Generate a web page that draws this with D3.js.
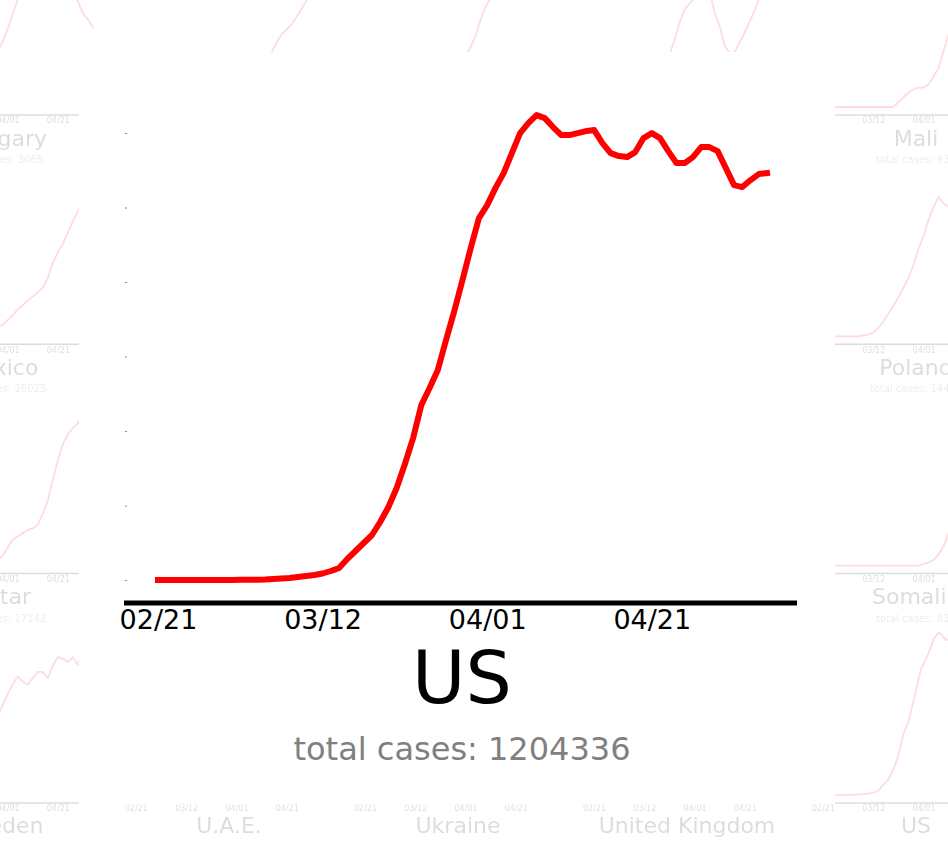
<!DOCTYPE html>
<html>
<head>
<meta charset="utf-8">
<script src="https://cdn.jsdelivr.net/npm/d3@7"></script>
<style>
  body { margin: 0; background: #fff; }
  svg { display: block; font-family: "DejaVu Sans", sans-serif; }
</style>
</head>
<body>
<script>
// daily new cases (smoothed) for the US, 02/21 .. 05/05
const usCases = [3, 3, 3, 3, 3, 4, 4, 5, 6, 8, 10, 15, 25, 35, 67, 100, 134, 200, 268, 335,
    436, 604, 805, 1409, 1946, 2483, 3019, 3892, 4898, 6173, 7784, 9528, 11742, 12882, 14090,
    16103, 18049, 20130, 22277, 24290, 25162, 26303, 27310, 28652, 29994, 30665, 31202, 31000,
    30397, 29860, 29860, 29994, 30128, 30195, 29323, 28652, 28450, 28383, 28719, 29658, 29994,
    29658, 28786, 27981, 27981, 28383, 29054, 29054, 28786, 27645, 26504, 26370, 26840, 27243, 27310];
const usTotal = 1204336;

// background panels, every second day, in % of each country's own peak
const hungary = [0, 0, 0, 0, 0, 0, 0, 0, 1, 2, 3, 5, 7, 10, 14, 18, 23, 28, 34, 40, 48, 57, 66, 75,
    83, 90, 95, 99, 100, 97, 92, 85, 78, 71, 65, 58, 54, 49];
const rowOneB = [0, 0, 0, 0, 0, 0, 0, 0, 0, 0, 0, 1, 2, 4, 6, 8, 10, 12, 14, 16, 18, 20, 22, 24, 26,
    28, 31, 34, 40, 45, 48, 51, 56, 61, 66, 78, 90, 100];
const rowOneC = [0, 0, 0, 0, 0, 0, 0, 0, 0, 0, 0, 0, 0, 2, 4, 7, 10, 14, 19, 25, 31, 37, 44, 54, 62,
    67, 75, 84, 92, 97, 100, 96, 90, 86, 84, 80, 78, 76];
const rowOneD = [0, 0, 0, 0, 0, 0, 0, 0, 0, 0, 2, 5, 10, 16, 24, 32, 41, 52, 60, 64, 67, 80, 90, 72,
    58, 50, 38, 33, 34, 40, 46, 53, 60, 68, 80, 92, 100, 97];
const mali = [0, 0, 0, 0, 0, 0, 0, 0, 0, 0, 0, 0, 0, 0, 0, 3, 6, 9, 11, 12, 12, 14, 19, 24, 35, 45,
    55, 60, 65, 70, 78, 85, 90, 95, 100, 97, 98, 100];
const mexico = [0, 0, 0, 0, 0, 0, 0, 0, 0, 0, 0.5, 1, 1.5, 2, 3, 3.5, 4, 5, 5.5, 7, 10, 13, 16.5, 19,
    22, 24.5, 27, 30, 36, 45, 52, 57, 64, 71, 77, 85, 93, 100];
const poland = [0, 0, 0, 0, 0, 0, 0, 0, 0.5, 1, 2.5, 5, 9, 14, 19, 24, 30, 36, 44, 54, 62, 72, 80, 86,
    82, 80, 82, 85, 88, 90, 93, 95, 97, 100, 98, 96, 95, 97];
const qatar = [0, 0, 0, 0, 0, 0, 0, 0, 0, 0, 0, 0.5, 1, 1.5, 2, 2, 2.5, 3, 3.5, 6, 11, 16, 18, 20, 22,
    23, 25, 32, 40, 53, 65, 75, 81, 85, 88, 93, 97, 100];
const somalia = [0, 0, 0, 0, 0, 0, 0, 0, 0, 0, 0, 0, 0, 0, 0, 0, 0, 0, 0, 0, 1, 2, 3.5, 7, 12, 20, 30,
    42, 55, 65, 70, 75, 80, 85, 90, 95, 100, 98];
const sweden = [0, 0, 0, 0, 0, 1, 2, 5, 10, 14, 18, 22, 25, 28, 32, 36, 40, 44, 48, 55, 62, 68, 73,
    70, 68, 72, 76, 76, 72, 80, 85, 84, 82, 85, 80, 90, 100, 95];

// grid of background panels, rows 1..4 of the overview, 5 columns
const gridNames = [
    ["Hungary", "", "", "", "Mali"],
    ["Mexico", "", "", "", "Poland"],
    ["Qatar", "", "", "", "Somalia"],
    ["Sweden", "U.A.E.", "Ukraine", "United Kingdom", "US"]
];
const gridTotals = [
    [3065, null, null, null, 631],
    [26025, null, null, null, 14431],
    [17142, null, null, null, 835],
    [null, null, null, null, usTotal]
];
const gridSeries = [
    [hungary, rowOneB, rowOneC, rowOneD, mali],
    [mexico, null, null, null, poland],
    [qatar, null, null, null, somalia],
    [sweden, null, null, null, usCases]
];

const tickDates = ["2020-02-21", "2020-03-12", "2020-04-01", "2020-04-21"];

const width = 948, height = 843;
const start = new Date(2020, 1, 21);
const usDates = usCases.map((v, i) => d3.timeDay.offset(start, i));
const end = usDates[usDates.length - 1];
const tickValues = tickDates.map(d3.timeParse("%Y-%m-%d"));
const fmt = d3.timeFormat("%m/%d");

const svg = d3.select("body")
    .append("svg")
    .attr("width", width)
    .attr("height", height);

// ---- faded overview grid ----
const bg = svg.append("g").attr("opacity", 0.14);

gridNames.forEach(function (row, r) {
    row.forEach(function (name, c) {
        const cx = c * 229;
        const ay = 115 + r * 229.3;
        const values = gridSeries[r][c];
        const g = bg.append("g");

        const xs = d3.scaleTime().domain([start, end]).range([cx - 93, cx + 93]);

        if (values) {
            const step = values.length === usCases.length ? 1 : 2;
            const ys = d3.scaleLinear().domain([0, d3.max(values)]).range([ay - 8, ay - 170]);
            const line = d3.line()
                .x((d, i) => xs(d3.timeDay.offset(start, i * step)))
                .y(d => ys(d));
            g.append("path")
                .datum(values)
                .attr("d", line)
                .attr("fill", "none")
                .attr("stroke", "red")
                .attr("stroke-width", 1.8)
                .attr("stroke-linejoin", "round");
        }

        // axis line
        g.append("line")
            .attr("x1", cx - 103).attr("x2", cx + 103)
            .attr("y1", ay).attr("y2", ay)
            .attr("stroke", "black")
            .attr("stroke-width", 1.5);

        // only the ticks that reach into the picture
        const shown = tickValues.filter(t => xs(t) > -10 && xs(t) < width + 10);
        const ax = g.append("g")
            .attr("transform", "translate(0," + ay + ")")
            .call(d3.axisBottom(xs).tickValues(shown).tickFormat(fmt).tickSize(0).tickPadding(2.8));
        ax.select(".domain").remove();
        ax.attr("font-family", null).attr("font-size", null);
        ax.selectAll("text").attr("font-size", "8px").attr("fill", "black");

        if (name) {
            g.append("text")
                .attr("x", cx).attr("y", ay + 30.5)
                .attr("text-anchor", "middle")
                .attr("font-size", "22px")
                .text(name);
        }
        const total = gridTotals[r][c];
        if (total !== null && ay + 40 < height) {
            g.append("text")
                .attr("x", cx).attr("y", ay + 48)
                .attr("text-anchor", "middle")
                .attr("font-size", "10px")
                .attr("fill", "#808080")
                .text("total cases: " + total);
        }
    });
});

// ---- focused panel ----
svg.append("rect")
    .attr("x", 79).attr("y", 52)
    .attr("width", 835 - 79).attr("height", 804.5 - 52)
    .attr("fill", "white");

const focus = svg.append("g");

const x = d3.scaleTime().domain([start, end]).range([158, 767]);
const y = d3.scaleLinear().domain([0, 30000]).range([580, 133]);

// y ticks (no labels)
const yAxis = focus.append("g")
    .attr("transform", "translate(127,0)")
    .call(d3.axisLeft(y).tickValues(d3.range(0, 30001, 5000)).tickSize(2).tickFormat(""));
yAxis.select(".domain").remove();
yAxis.selectAll("line").attr("stroke", "#888").attr("stroke-width", 1);

// x axis
focus.append("line")
    .attr("x1", 124).attr("x2", 797)
    .attr("y1", 603).attr("y2", 603)
    .attr("stroke", "black")
    .attr("stroke-width", 5);

const xAxis = focus.append("g")
    .attr("transform", "translate(0,603)")
    .call(d3.axisBottom(x).tickValues(tickValues).tickFormat(fmt).tickSize(0).tickPadding(6.8));
xAxis.select(".domain").remove();
xAxis.attr("font-family", null).attr("font-size", null);
xAxis.selectAll("text").attr("font-size", "27px").attr("fill", "black");

const line = d3.line()
    .x((d, i) => x(usDates[i]))
    .y(d => y(d));

focus.append("path")
    .datum(usCases)
    .attr("d", line)
    .attr("fill", "none")
    .attr("stroke", "red")
    .attr("stroke-width", 6)
    .attr("stroke-linejoin", "round")
    .attr("stroke-linecap", "square");

// title and total
focus.append("text")
    .attr("x", 462).attr("y", 703)
    .attr("text-anchor", "middle")
    .attr("font-size", "73px")
    .text("US");

focus.append("text")
    .attr("x", 462).attr("y", 760)
    .attr("text-anchor", "middle")
    .attr("font-size", "32px")
    .attr("fill", "#808080")
    .text("total cases: " + usTotal);
</script>
</body>
</html>
